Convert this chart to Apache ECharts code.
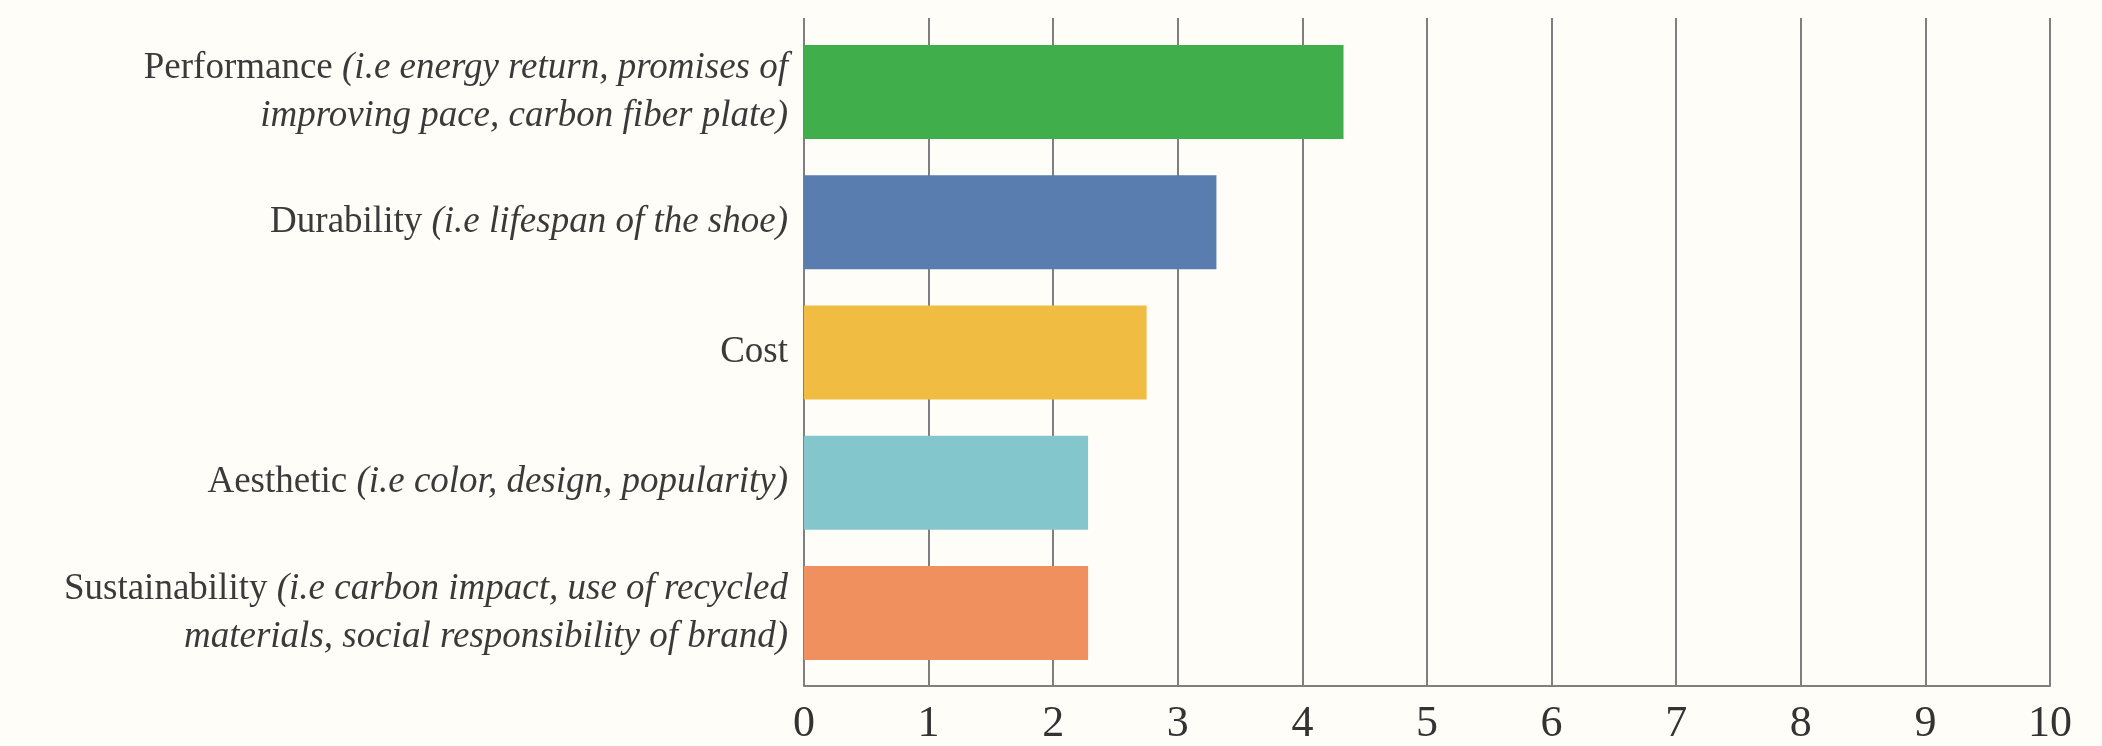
<!DOCTYPE html>
<html lang="en">
<head>
    <meta charset="UTF-8">
    <title>Shoe priorities</title>
    <style>
        html, body { margin: 0; padding: 0; background: #fffdf8; }
    </style>
</head>
<body>
<div id="main" style="width: 2102px;height:746px;"></div>

<script type="text/javascript" src="https://cdn.jsdelivr.net/npm/echarts@6/dist/echarts.min.js"></script>
<script>
    // categories (top to bottom), plain part + italic note
    var catNames = ['Performance', 'Durability', 'Cost', 'Aesthetic', 'Sustainability'];
    var catNotes = [
        '(i.e energy return, promises of\nimproving pace, carbon fiber plate)',
        '(i.e lifespan of the shoe)',
        '',
        '(i.e color, design, popularity)',
        '(i.e carbon impact, use of recycled\nmaterials, social responsibility of brand)'
    ];
    var scores = [4.33, 3.31, 2.75, 2.28, 2.28];
    var barColors = ['#41ae4c', '#597daf', '#f0bd42', '#83c6cb', '#f0905e'];
    var xTicks = [0, 1, 2, 3, 4, 5, 6, 7, 8, 9, 10];

    var myChart = echarts.init(document.getElementById('main'));
    var fontFam = '"Liberation Serif", "DejaVu Serif", serif';
    var gridColor = '#7f7f7f';

    // build rich-text label per category
    var labelMap = {};
    catNames.forEach(function (name, i) {
        var note = catNotes[i];
        var txt;
        if (!note) {
            txt = '{n|' + name + '}';
        } else {
            var lines = note.split('\n');
            txt = '{n|' + name + ' }{i|' + lines[0] + '}';
            for (var k = 1; k < lines.length; k++) {
                txt += '\n{i|' + lines[k] + '}';
            }
        }
        labelMap[name] = txt;
    });

    var barData = scores.map(function (v, i) {
        return { value: v, itemStyle: { color: barColors[i] } };
    });

    var option = {
        backgroundColor: '#fffdf8',
        animation: false,
        grid: [
            { left: 804, right: 52, top: 18, bottom: 58 },   // gridlines + tick labels
            { left: 804, right: 52, top: 27, bottom: 68 }    // bars + category labels
        ],
        xAxis: [
            {
                gridIndex: 0,
                type: 'value',
                min: xTicks[0],
                max: xTicks[xTicks.length - 1],
                interval: 1,
                axisLine: { show: true, lineStyle: { color: gridColor, width: 2 } },
                axisTick: { show: false },
                splitLine: { show: true, lineStyle: { color: gridColor, width: 2 } },
                axisLabel: {
                    margin: 16,
                    color: '#333333',
                    fontFamily: fontFam,
                    fontSize: 44
                }
            },
            {
                gridIndex: 1,
                type: 'value',
                min: xTicks[0],
                max: xTicks[xTicks.length - 1],
                show: false
            }
        ],
        yAxis: [
            {
                gridIndex: 0,
                type: 'category',
                data: catNames,
                show: false
            },
            {
                gridIndex: 1,
                type: 'category',
                data: catNames,
                inverse: true,
                axisLine: { show: false },
                axisTick: { show: false },
                axisLabel: {
                    margin: 16,
                    align: 'right',
                    formatter: function (v) { return labelMap[v]; },
                    rich: {
                        n: { fontFamily: fontFam, fontSize: 37, color: '#3a3a3a', lineHeight: 48, align: 'right' },
                        i: { fontFamily: fontFam, fontSize: 37, fontStyle: 'italic', color: '#3a3a3a', lineHeight: 48, align: 'right' }
                    }
                }
            }
        ],
        series: [{
            type: 'bar',
            xAxisIndex: 1,
            yAxisIndex: 1,
            barWidth: 94,
            data: barData
        }]
    };

    myChart.setOption(option);
</script>
</body>
</html>
